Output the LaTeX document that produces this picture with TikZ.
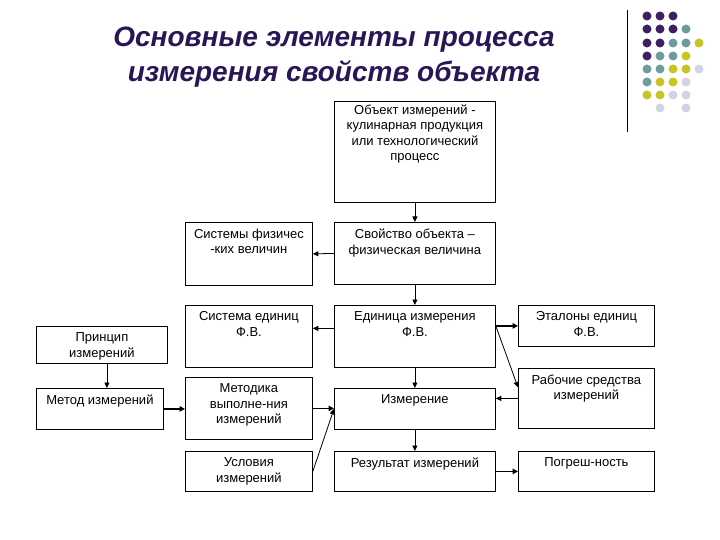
\documentclass[tikz,border=0pt]{standalone}
\usepackage{fontspec}
\setmainfont{Liberation Sans}
\usetikzlibrary{arrows.meta}

\definecolor{titlepurple}{HTML}{2A1656}
\definecolor{dotpurple}{HTML}{3D1F63}
\definecolor{dotteal}{HTML}{6E9C9C}
\definecolor{dotyellow}{HTML}{C9C422}
\definecolor{dotlilac}{HTML}{D2D2E4}

% text set at the top of a box of given width and height
\newcommand\boxtext[4][6.5pt]{\parbox[c][#3][t]{#2}{\centering\fontsize{13}{15.5}\selectfont\vspace*{#1}#4\par}}

\tikzset{
  block/.style={draw, line width=0.8pt, inner sep=0pt, anchor=north west},
  link/.style={-{Triangle[length=5.5pt,width=5pt]}, line width=0.8pt},
  mainlink/.style={-{Triangle[length=5.5pt,width=5.5pt]}, line width=1.8pt}
}

\begin{document}
\begin{tikzpicture}[x=1pt, y=-1pt]
    \useasboundingbox (0,0) rectangle (720,540);
    \fill[white] (0,0) rectangle (720,540);

    % Title
    \node[font=\fontsize{28}{35}\selectfont\bfseries\itshape, text=titlepurple, align=center]
        (title) at (334,57) {Основные элементы процесса\\измерения свойств объекта};

    % Decoration at the top right
    \draw[line width=1pt] (627,10) -- (627,132);
    \foreach \x/\y/\col in {647/16/dotpurple, 660/16/dotpurple, 673/16/dotpurple,
        647/29/dotpurple, 660/29/dotpurple, 673/29/dotpurple, 686/29/dotteal,
        647/43/dotpurple, 660/43/dotpurple, 673/43/dotteal, 686/43/dotteal, 699/43/dotyellow,
        647/56/dotpurple, 660/56/dotteal, 673/56/dotteal, 686/56/dotyellow,
        647/69/dotteal, 660/69/dotteal, 673/69/dotyellow, 686/69/dotyellow, 699/69/dotlilac,
        647/82/dotteal, 660/82/dotyellow, 673/82/dotyellow, 686/82/dotlilac,
        647/95/dotyellow, 660/95/dotyellow, 673/95/dotlilac, 686/95/dotlilac,
        660/108/dotlilac, 686/108/dotlilac}
        \fill[\col] (\x,\y) circle (4.5);

    % Define the boxes
    \node[block] (obj) at (334,101) {\boxtext[3pt]{161pt}{101pt}{Объект измерений -\\кулинарная продукция\\или технологический\\процесс}};
    \node[block] (prop) at (334,222) {\boxtext{161pt}{62pt}{Свойство объекта –\\физическая величина}};
    \node[block] (sys) at (185,222) {\boxtext{127pt}{63pt}{Системы физичес\\-ких величин}};
    \node[block] (units) at (185,305) {\boxtext{127pt}{62pt}{Система единиц\\Ф.В.}};
    \node[block] (unit) at (334,305) {\boxtext{161pt}{62pt}{Единица измерения\\Ф.В.}};
    \node[block] (etal) at (518,305) {\boxtext{136pt}{41pt}{Эталоны единиц\\Ф.В.}};
    \node[block] (work) at (518,368) {\boxtext{136pt}{60pt}{Рабочие средства\\измерений}};
    \node[block] (princ) at (36,326) {\boxtext{131pt}{37pt}{Принцип\\измерений}};
    \node[block] (meth) at (36,388) {\boxtext{127pt}{41pt}{Метод измерений}};
    \node[block] (methd) at (185,377) {\boxtext{127pt}{62pt}{Методика\\выполне-ния\\измерений}};
    \node[block] (meas) at (334,388) {\boxtext{161pt}{41pt}{Измерение}};
    \node[block] (cond) at (185,451) {\boxtext{127pt}{40pt}{Условия\\измерений}};
    \node[block] (res) at (334,451) {\boxtext{161pt}{40pt}{Результат измерений}};
    \node[block] (err) at (518,451) {\boxtext{136pt}{40pt}{Погреш-ность}};

    % Draw the connectors
    \draw[link] (obj.south) -- (prop.north);
    \draw[link] (prop.west) -- (sys.east);
    \draw[link] (prop.south) -- (unit.north);
    \draw[link] ([yshift=8pt]unit.west) -- ([yshift=8pt]unit.west -| units.east);
    \draw[mainlink] (unit.east |- etal.west) -- (etal.west);
    \draw[link] (unit.east |- etal.west) -- ([yshift=11pt]work.west);
    \draw[link] (work.west) -- (work.west -| meas.east);
    \draw[link] (unit.south) -- (unit.south |- meas.north);
    \draw[link] ([xshift=5pt]princ.south) -- ([xshift=5pt]princ.south |- meth.north);
    \draw[mainlink] (meth.east) -- (meth.east -| methd.west);
    \draw[mainlink] (methd.east) -- (methd.east -| meas.west);
    \draw[link] (cond.east) -- (meas.west);
    \draw[link] (meas.south) -- (meas.south |- res.north);
    \draw[mainlink] (res.east) -- (err.west);
\end{tikzpicture}
\end{document}
